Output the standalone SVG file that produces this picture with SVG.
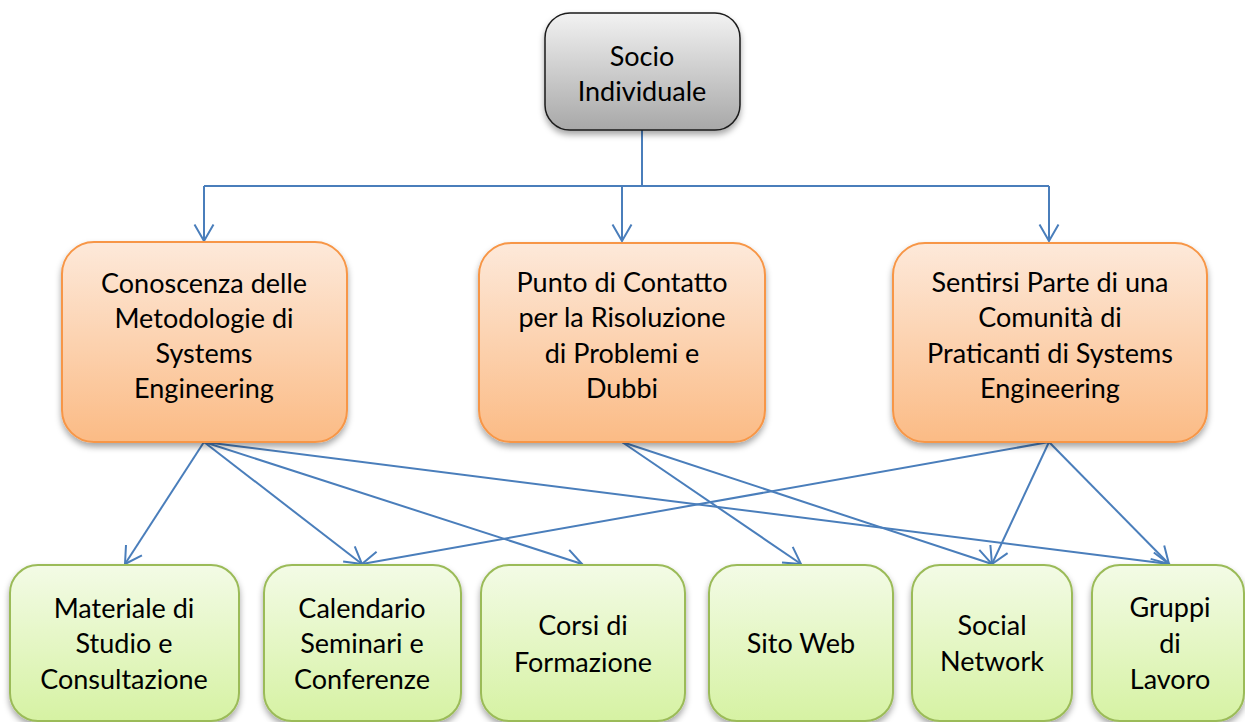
<svg xmlns="http://www.w3.org/2000/svg" width="1245" height="722" viewBox="0 0 1245 722">
<defs>
<linearGradient id="gGray" x1="0" y1="0" x2="0" y2="1"><stop offset="0" stop-color="#f2f2f2"/><stop offset="1" stop-color="#a8a8a8"/></linearGradient>
<linearGradient id="gOrange" x1="0" y1="0" x2="0" y2="1"><stop offset="0" stop-color="#fde9da"/><stop offset="1" stop-color="#fbbb85"/></linearGradient>
<linearGradient id="gGreen" x1="0" y1="0" x2="0" y2="1"><stop offset="0" stop-color="#f3fbe6"/><stop offset="1" stop-color="#d6f2a3"/></linearGradient>
<filter id="sh" x="-10%" y="-10%" width="120%" height="130%"><feDropShadow dx="0" dy="4" stdDeviation="3" flood-color="#000" flood-opacity="0.35"/></filter>
<marker id="arr" viewBox="0 0 18 20" refX="17" refY="10" markerWidth="18" markerHeight="20" markerUnits="userSpaceOnUse" orient="auto" overflow="visible">
<path d="M0.5,0.5 L17,10 L0.5,19.5" fill="none" stroke="#4a7ebb" stroke-width="2"/>
</marker>
</defs>
<style>
text{font-family:Lato,"Liberation Sans",sans-serif;font-size:27px;fill:#000;text-anchor:middle}
.gray{fill:url(#gGray);stroke:#1a1a1a;stroke-width:1.5}
.orange{fill:url(#gOrange);stroke:#f79646;stroke-width:2}
.green{fill:url(#gGreen);stroke:#9bbb59;stroke-width:2}
.c{fill:none;stroke:#4a7ebb;stroke-width:2}
.a{marker-end:url(#arr)}
</style>
<rect width="1245" height="722" fill="#fff"/>
<g id="connectors">
<path class="c" d="M642,130 V186 M204,186 H1049"/>
<path class="c a" d="M204,186 V241"/>
<path class="c a" d="M622,186 V241"/>
<path class="c a" d="M1049,186 V241"/>
<path class="c a" d="M204,442 L125,564"/>
<path class="c a" d="M204,442 L362,564"/>
<path class="c a" d="M204,442 L582,564"/>
<path class="c a" d="M204,442 L1169,564"/>
<path class="c a" d="M622,442 L801,564"/>
<path class="c a" d="M622,442 L992,564"/>
<path class="c a" d="M1049,442 L362,564"/>
<path class="c a" d="M1049,442 L992,564"/>
<path class="c a" d="M1049,442 L1169,564"/>
</g>
<g id="socio">
<rect class="gray" filter="url(#sh)" x="545" y="13" width="195" height="117" rx="25"/>
<text x="642" y="66">Socio</text>
<text x="642" y="101">Individuale</text>
</g>
<g id="conoscenza">
<rect class="orange" filter="url(#sh)" x="62" y="242" width="285" height="200" rx="32"/>
<text x="204" y="293">Conoscenza delle</text>
<text x="204" y="328">Metodologie di</text>
<text x="204" y="363">Systems</text>
<text x="204" y="398">Engineering</text>
</g>
<g id="punto">
<rect class="orange" filter="url(#sh)" x="479" y="243" width="286" height="199" rx="32"/>
<text x="622" y="292">Punto di Contatto</text>
<text x="622" y="327">per la Risoluzione</text>
<text x="622" y="363">di Problemi e</text>
<text x="622" y="398">Dubbi</text>
</g>
<g id="sentirsi">
<rect class="orange" filter="url(#sh)" x="893" y="243" width="314" height="199" rx="32"/>
<text x="1050" y="292">Sentirsi Parte di una</text>
<text x="1050" y="327">Comunità di</text>
<text x="1050" y="363">Praticanti di Systems</text>
<text x="1050" y="398">Engineering</text>
</g>
<g id="materiale">
<rect class="green" filter="url(#sh)" x="10" y="565" width="229" height="156" rx="28"/>
<text x="124" y="618">Materiale di</text>
<text x="124" y="653">Studio e</text>
<text x="124" y="689">Consultazione</text>
</g>
<g id="calendario">
<rect class="green" filter="url(#sh)" x="264" y="565" width="197" height="156" rx="28"/>
<text x="362" y="618">Calendario</text>
<text x="362" y="653">Seminari e</text>
<text x="362" y="689">Conferenze</text>
</g>
<g id="corsi">
<rect class="green" filter="url(#sh)" x="481" y="565" width="204" height="156" rx="28"/>
<text x="583" y="635">Corsi di</text>
<text x="583" y="672">Formazione</text>
</g>
<g id="sito">
<rect class="green" filter="url(#sh)" x="709" y="565" width="184" height="156" rx="28"/>
<text x="801" y="653">Sito Web</text>
</g>
<g id="social">
<rect class="green" filter="url(#sh)" x="912" y="565" width="160" height="156" rx="28"/>
<text x="992" y="635">Social</text>
<text x="992" y="671">Network</text>
</g>
<g id="gruppi">
<rect class="green" filter="url(#sh)" x="1092" y="565" width="152" height="156" rx="28"/>
<text x="1170" y="617">Gruppi</text>
<text x="1170" y="653">di</text>
<text x="1170" y="689">Lavoro</text>
</g>
</svg>
